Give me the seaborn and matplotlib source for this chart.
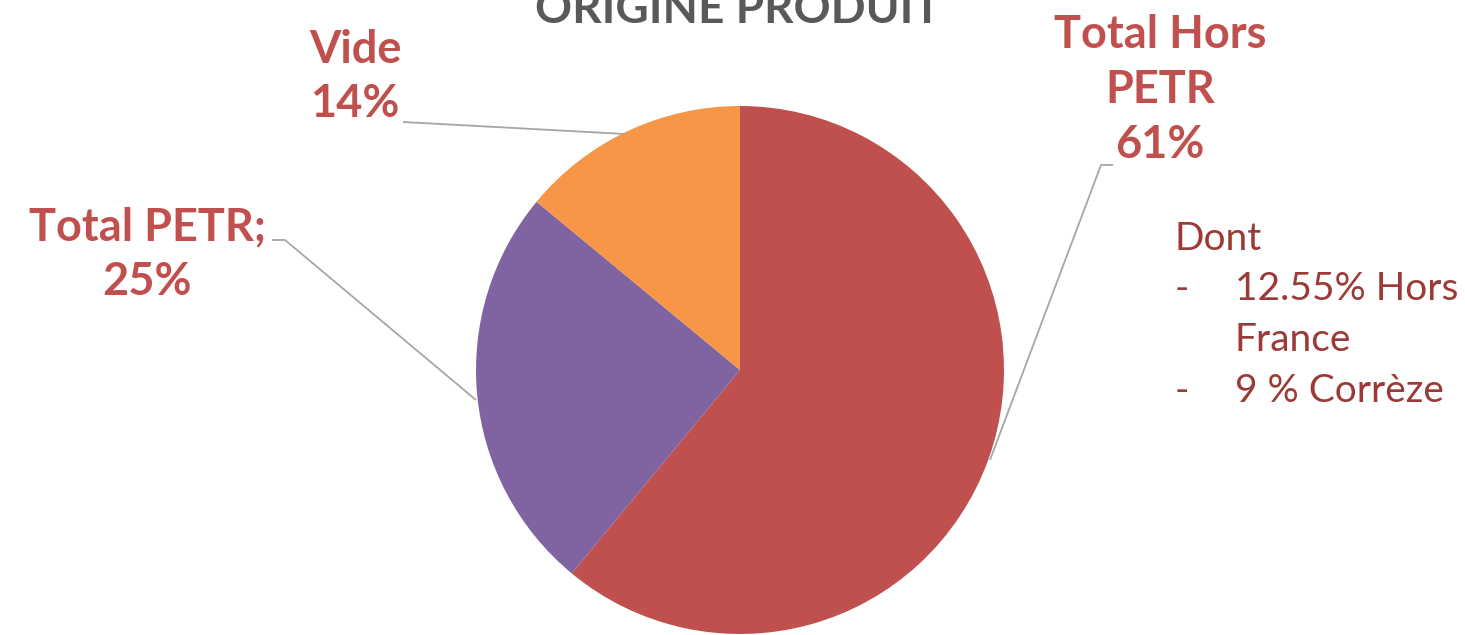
import matplotlib
matplotlib.use("Agg")
import matplotlib.pyplot as plt
import seaborn as sns

# DATA

categories = ["Total Hors PETR", "Total PETR", "Vide"]
shares = [61, 25, 14]
slice_colors = ["#C0504D", "#8064A2", "#F79646"]
label_texts = ["Total Hors\nPETR\n61%", "Total PETR;\n25%", "Vide\n14%"]
detail_bullets = ["-", "", "-"]
detail_lines = ["12.55% Hors", "France", "9 % Corrèze"]
title = "ORIGINE PRODUIT"

sns.set_theme(style="white")
plt.rcParams["font.family"] = ["Lato", "DejaVu Sans"]

W, H = 1465, 635
R = 264.0
CX, CY = 740.0, 370.0


# pixel (from top left) -> data units of the pie
def px(x, y):
    return (x - CX) / R, (CY - y) / R


fig = plt.figure(figsize=(W / 100, H / 100), dpi=100)
ax = fig.add_axes([0, 0, 1, 1])
ax.pie(shares, colors=slice_colors, startangle=90, counterclock=False,
       radius=1.0, wedgeprops=dict(linewidth=0))
ax.set_xlim(px(0, 0)[0], px(W, 0)[0])
ax.set_ylim(px(0, H)[1], px(0, 0)[1])
ax.set_aspect("equal")
ax.axis("off")

label_color = "#C0504D"
lead_color = "#A6A6A6"

# slice labels
label_pos = [(1160, 90), (147, 255), (355, 77)]
for txt, (x, y) in zip(label_texts, label_pos):
    ax.text(*px(x, y), txt, ha="center", va="center", fontsize=32.5,
            fontweight="bold", color=label_color, linespacing=1.38)

# leader lines
leaders = [
    [(1113, 165), (1101, 165), (990, 460)],
    [(272, 240), (285, 240), (476, 400)],
    [(403, 122), (625, 134)],
]
for pts in leaders:
    xs, ys = zip(*[px(x, y) for x, y in pts])
    ax.plot(xs, ys, color=lead_color, lw=1.3, solid_capstyle="butt")

# title (cut off at the top like the reference)
ax.text(*px(738, 23), title, ha="center", va="baseline", fontsize=33,
        fontweight="bold", color="#595959")

# detail note
detail_color = "#9B3A37"
ax.text(*px(1175, 250), "Dont", ha="left", va="baseline", fontsize=28,
        color=detail_color)
for i, (b, line) in enumerate(zip(detail_bullets, detail_lines)):
    y = 300 + i * 51
    if b:
        ax.text(*px(1175, y), b, ha="left", va="baseline", fontsize=28,
                color=detail_color)
    ax.text(*px(1235, y), line, ha="left", va="baseline", fontsize=28,
            color=detail_color)

fig.savefig("out.png", dpi=100)
